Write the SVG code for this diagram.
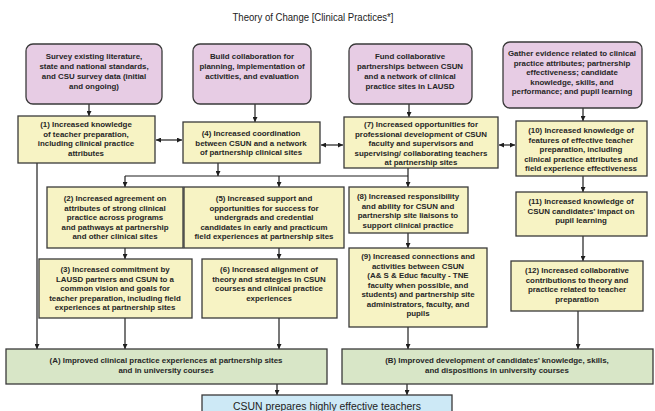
<svg xmlns="http://www.w3.org/2000/svg" width="655" height="411" viewBox="0 0 655 411">
<style>
.t{font-family:"Liberation Sans",Arial,sans-serif;font-size:7.9px;font-weight:bold;fill:#262626;text-anchor:middle}
.ti{font-family:"Liberation Sans",Arial,sans-serif;font-size:10px;fill:#222;text-anchor:middle}
.p{fill:#e7cce4;stroke:#3a3a3a;stroke-width:1.3}
.y{fill:#f7f3c4;stroke:#3a3a3a;stroke-width:1.3}
.g{fill:#d8e6c7;stroke:#3a3a3a;stroke-width:1.3}
.b{fill:#cde9f6;stroke:#3a3a3a;stroke-width:1.3}
.c{fill:none;stroke:#1e1e1e;stroke-width:1.2}
</style>
<defs>
<marker id="ah" viewBox="0 0 10 10" refX="10" refY="5" markerWidth="5" markerHeight="5" orient="auto-start-reverse" markerUnits="userSpaceOnUse">
<path d="M0,0 L10,5 L0,10 Z" fill="#1e1e1e"/>
</marker>
</defs>
<rect width="655" height="411" fill="#ffffff"/>
<text class="ti" x="313" y="21" textLength="161" lengthAdjust="spacingAndGlyphs">Theory of Change [Clinical Practices*]</text>

<g id="connectors">
<path class="c" d="M89,104 V116" marker-end="url(#ah)"/>
<path class="c" d="M255,104 V122" marker-end="url(#ah)"/>
<path class="c" d="M409,104 V117" marker-end="url(#ah)"/>
<path class="c" d="M583,108 V121" marker-end="url(#ah)"/>
<path class="c" d="M156,140 H182" marker-start="url(#ah)" marker-end="url(#ah)"/>
<path class="c" d="M321,145 H343" marker-start="url(#ah)" marker-end="url(#ah)"/>
<path class="c" d="M499,145 H515" marker-start="url(#ah)" marker-end="url(#ah)"/>
<path class="c" d="M218,163 V176" marker-end="url(#ah)"/>
<path class="c" d="M125,176 H408"/>
<path class="c" d="M408,168 V187" marker-end="url(#ah)"/>
<path class="c" d="M125,176 V187" marker-end="url(#ah)"/>
<path class="c" d="M279,176 V187" marker-end="url(#ah)"/>
<path class="c" d="M125,248 V259" marker-end="url(#ah)"/>
<path class="c" d="M279,248 V259" marker-end="url(#ah)"/>
<path class="c" d="M408,233 V248" marker-end="url(#ah)"/>
<path class="c" d="M583,176 V192" marker-end="url(#ah)"/>
<path class="c" d="M583,236 V261" marker-end="url(#ah)"/>
<path class="c" d="M37,163 V349" marker-end="url(#ah)"/>
<path class="c" d="M125,318 V349" marker-end="url(#ah)"/>
<path class="c" d="M279,318 V349" marker-end="url(#ah)"/>
<path class="c" d="M408,327 V349" marker-end="url(#ah)"/>
<path class="c" d="M578,311 V349" marker-end="url(#ah)"/>
<path class="c" d="M277,384 V395" marker-end="url(#ah)"/>
<path class="c" d="M407,384 V395" marker-end="url(#ah)"/>
</g>

<g id="p1"><rect class="p" x="26" y="44" width="136" height="60" rx="7"/>
<text class="t"><tspan x="94" y="59">Survey existing literature,</tspan><tspan x="94" y="69">state and national standards,</tspan><tspan x="94" y="79">and CSU survey data (initial</tspan><tspan x="94" y="89">and ongoing)</tspan></text></g>
<g id="p2"><rect class="p" x="193" y="44" width="118" height="60" rx="7"/>
<text class="t"><tspan x="252" y="59">Build collaboration for</tspan><tspan x="252" y="69">planning, implementation of</tspan><tspan x="252" y="79">activities, and evaluation</tspan></text></g>
<g id="p3"><rect class="p" x="349" y="44" width="123" height="60" rx="7"/>
<text class="t"><tspan x="410" y="59">Fund collaborative</tspan><tspan x="410" y="69">partnerships between CSUN</tspan><tspan x="410" y="79">and a network of clinical</tspan><tspan x="410" y="89">practice sites in LAUSD</tspan></text></g>
<g id="p4"><rect class="p" x="503" y="42" width="139" height="66" rx="7"/>
<text class="t"><tspan x="572" y="56">Gather evidence related to clinical</tspan><tspan x="572" y="65.5">practice attributes; partnership</tspan><tspan x="572" y="75">effectiveness; candidate</tspan><tspan x="572" y="84.5">knowledge, skills, and</tspan><tspan x="572" y="94">performance; and pupil learning</tspan></text></g>

<g id="y1"><rect class="y" x="18" y="116" width="137" height="47"/>
<text class="t"><tspan x="86" y="127">(1) Increased knowledge</tspan><tspan x="86" y="136.5">of teacher preparation,</tspan><tspan x="86" y="146">including  clinical practice</tspan><tspan x="86" y="155.5">attributes</tspan></text></g>
<g id="y4"><rect class="y" x="183" y="122" width="137" height="41"/>
<text class="t"><tspan x="251" y="136">(4) Increased coordination</tspan><tspan x="251" y="145.5">between CSUN and a network</tspan><tspan x="251" y="155">of partnership clinical sites</tspan></text></g>
<g id="y7"><rect class="y" x="344" y="117" width="154" height="51"/>
<text class="t"><tspan x="421" y="127">(7) Increased opportunities for</tspan><tspan x="421" y="136.5">professional development of CSUN</tspan><tspan x="421" y="146">faculty and supervisors and</tspan><tspan x="421" y="155.5">supervising/ collaborating teachers</tspan><tspan x="421" y="165">at partnership sites</tspan></text></g>
<g id="y10"><rect class="y" x="516" y="121" width="131" height="55"/>
<text class="t"><tspan x="581" y="133">(10) Increased knowledge of</tspan><tspan x="581" y="142.5">features of effective teacher</tspan><tspan x="581" y="152">preparation, including</tspan><tspan x="581" y="161.5">clinical practice attributes and</tspan><tspan x="581" y="171">field experience effectiveness</tspan></text></g>

<g id="y2"><rect class="y" x="47" y="187" width="136" height="61"/>
<text class="t"><tspan x="115" y="201">(2) Increased agreement on</tspan><tspan x="115" y="210.5">attributes of strong clinical</tspan><tspan x="115" y="220">practice across programs</tspan><tspan x="115" y="229.5">and pathways at partnership</tspan><tspan x="115" y="239">and other clinical sites</tspan></text></g>
<g id="y5"><rect class="y" x="184" y="187" width="160" height="61"/>
<text class="t"><tspan x="264" y="201">(5) Increased support and</tspan><tspan x="264" y="210.5">opportunities for success for</tspan><tspan x="264" y="220">undergrads and credential</tspan><tspan x="264" y="229.5">candidates in early and practicum</tspan><tspan x="264" y="239">field experiences at partnership sites</tspan></text></g>
<g id="y8"><rect class="y" x="349" y="187" width="119" height="46"/>
<text class="t"><tspan x="408" y="199">(8) Increased responsibility</tspan><tspan x="408" y="208.5">and ability for CSUN and</tspan><tspan x="408" y="218">partnership site liaisons to</tspan><tspan x="408" y="227.5">support clinical practice</tspan></text></g>
<g id="y11"><rect class="y" x="516" y="192" width="131" height="44"/>
<text class="t"><tspan x="581" y="204">(11) Increased knowledge of</tspan><tspan x="581" y="213.5">CSUN candidates’ impact on</tspan><tspan x="581" y="223">pupil learning</tspan></text></g>

<g id="y3"><rect class="y" x="39" y="259" width="153" height="59"/>
<text class="t"><tspan x="115" y="272">(3) Increased commitment by</tspan><tspan x="115" y="281.5">LAUSD partners and CSUN to a</tspan><tspan x="115" y="291">common vision and goals for</tspan><tspan x="115" y="300.5">teacher preparation, including field</tspan><tspan x="115" y="310">experiences at partnership sites</tspan></text></g>
<g id="y6"><rect class="y" x="202" y="259" width="135" height="59"/>
<text class="t"><tspan x="269" y="272">(6) Increased alignment of</tspan><tspan x="269" y="281.5">theory and strategies in CSUN</tspan><tspan x="269" y="291">courses and clinical practice</tspan><tspan x="269" y="300.5">experiences</tspan></text></g>
<g id="y9"><rect class="y" x="349" y="248" width="138" height="79"/>
<text class="t"><tspan x="418" y="259">(9) Increased connections and</tspan><tspan x="418" y="268.5">activities between CSUN</tspan><tspan x="418" y="278">(A&amp; S &amp; Educ faculty - TNE</tspan><tspan x="418" y="287.5">faculty when possible, and</tspan><tspan x="418" y="297">students) and partnership site</tspan><tspan x="418" y="306.5">administrators, faculty, and</tspan><tspan x="418" y="316">pupils</tspan></text></g>
<g id="y12"><rect class="y" x="511" y="261" width="132" height="50"/>
<text class="t"><tspan x="577" y="273">(12) Increased collaborative</tspan><tspan x="577" y="282.5">contributions to theory and</tspan><tspan x="577" y="292">practice related to teacher</tspan><tspan x="577" y="301.5">preparation</tspan></text></g>

<g id="ga"><rect class="g" x="6" y="349" width="321" height="35"/>
<text class="t"><tspan x="166" y="363">(A) Improved clinical practice experiences at partnership sites</tspan><tspan x="166" y="373">and in university courses</tspan></text></g>
<g id="gb"><rect class="g" x="342" y="349" width="311" height="35"/>
<text class="t"><tspan x="497" y="363">(B) Improved development of candidates’ knowledge, skills,</tspan><tspan x="497" y="373">and dispositions in university courses</tspan></text></g>
<g id="csun"><rect class="b" x="202" y="395" width="250" height="22"/>
<text class="ti" x="327" y="410" font-size="12.5" textLength="188" lengthAdjust="spacingAndGlyphs">CSUN prepares highly effective teachers</text></g>
</svg>
